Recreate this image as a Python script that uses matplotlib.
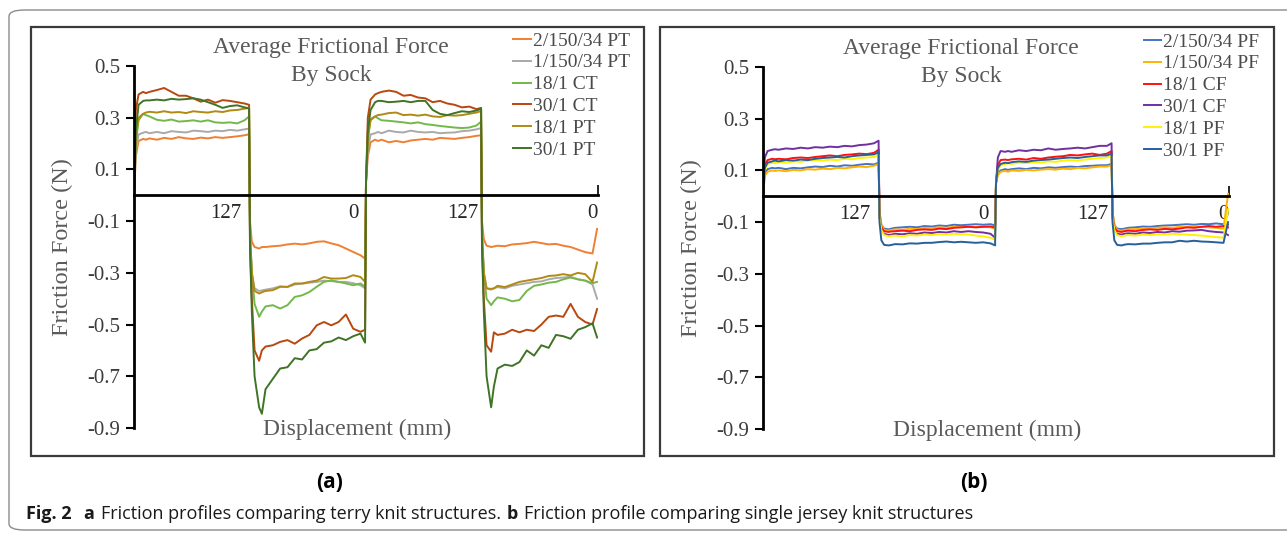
import numpy as np
import matplotlib
matplotlib.use('Agg')
import matplotlib.pyplot as plt
from matplotlib.patches import Rectangle, FancyBboxPatch

# sample positions inside one 127 mm stroke (mm)
stroke_pos = [0, 2, 5, 10, 13, 17, 25, 33, 41, 49, 57, 65, 73, 81, 89, 97, 105, 113, 121, 126]
stroke_len = 127
xtick_pos = [100, 240, 360, 502]
xtick_labels = ['127', '0', '127', '0']

# ---- (a) terry knit structures, friction force (N), four strokes each ----
pt_2_150_34 = [0.0, 0.15, 0.21, 0.218, 0.215, 0.22, 0.215, 0.222, 0.218, 0.225, 0.22, 0.218, 0.223, 0.22, 0.225, 0.222, 0.225, 0.228, 0.232, 0.236,
               -0.1, -0.18, -0.2, -0.206, -0.2, -0.2, -0.197, -0.195, -0.19, -0.187, -0.19, -0.186, -0.18, -0.178, -0.186, -0.193, -0.206, -0.219, -0.232, -0.245,
               0.05, 0.15, 0.205, 0.215, 0.21, 0.215, 0.205, 0.21, 0.205, 0.212, 0.215, 0.218, 0.215, 0.222, 0.22, 0.218, 0.222, 0.225, 0.23, 0.232,
               -0.1, -0.17, -0.195, -0.2, -0.198, -0.195, -0.197, -0.19, -0.188, -0.185, -0.18, -0.185, -0.19, -0.188, -0.195, -0.2, -0.21, -0.22, -0.225, -0.13]
pt_1_150_34 = [0.0, 0.17, 0.235, 0.242, 0.245, 0.24, 0.245, 0.24, 0.248, 0.245, 0.243, 0.25, 0.248, 0.245, 0.25, 0.248, 0.253, 0.25, 0.255, 0.258,
               -0.15, -0.3, -0.36, -0.37, -0.368, -0.365, -0.36, -0.352, -0.355, -0.345, -0.342, -0.338, -0.335, -0.33, -0.332, -0.335, -0.335, -0.34, -0.348, -0.36,
               0.05, 0.18, 0.235, 0.24, 0.245, 0.24, 0.25, 0.245, 0.243, 0.25, 0.245, 0.243, 0.245, 0.24, 0.242, 0.243, 0.248, 0.25, 0.255, 0.26,
               -0.15, -0.3, -0.36, -0.365, -0.36, -0.355, -0.36, -0.35, -0.345, -0.34, -0.335, -0.333, -0.325, -0.32, -0.318, -0.315, -0.325, -0.33, -0.345, -0.40]
ct_18_1 = [0.0, 0.20, 0.29, 0.315, 0.31, 0.305, 0.292, 0.288, 0.293, 0.285, 0.287, 0.29, 0.285, 0.29, 0.282, 0.28, 0.282, 0.278, 0.29, 0.305,
           -0.15, -0.3, -0.42, -0.47, -0.45, -0.43, -0.425, -0.438, -0.425, -0.393, -0.387, -0.374, -0.354, -0.335, -0.329, -0.335, -0.341, -0.348, -0.341, -0.354,
           0.05, 0.22, 0.295, 0.305, 0.298, 0.29, 0.288, 0.285, 0.282, 0.278, 0.282, 0.275, 0.272, 0.268, 0.265, 0.262, 0.26, 0.262, 0.27, 0.285,
           -0.15, -0.3, -0.40, -0.425, -0.41, -0.395, -0.40, -0.41, -0.405, -0.37, -0.35, -0.345, -0.338, -0.335, -0.325, -0.318, -0.325, -0.33, -0.34, -0.335]
ct_30_1 = [0.0, 0.33, 0.39, 0.40, 0.395, 0.40, 0.407, 0.415, 0.40, 0.385, 0.385, 0.375, 0.362, 0.37, 0.358, 0.368, 0.365, 0.36, 0.355, 0.35,
           -0.2, -0.4, -0.6, -0.64, -0.6, -0.585, -0.58, -0.567, -0.56, -0.574, -0.554, -0.54, -0.503, -0.49, -0.503, -0.49, -0.461, -0.516, -0.528, -0.52,
           0.05, 0.30, 0.37, 0.39, 0.395, 0.40, 0.405, 0.40, 0.385, 0.388, 0.378, 0.375, 0.36, 0.365, 0.355, 0.35, 0.34, 0.343, 0.333, 0.338,
           -0.2, -0.4, -0.58, -0.605, -0.53, -0.54, -0.535, -0.52, -0.53, -0.52, -0.525, -0.50, -0.47, -0.465, -0.47, -0.42, -0.47, -0.49, -0.5, -0.44]
pt_18_1 = [0.0, 0.22, 0.30, 0.315, 0.32, 0.323, 0.32, 0.325, 0.32, 0.322, 0.318, 0.325, 0.322, 0.32, 0.325, 0.322, 0.328, 0.33, 0.335, 0.338,
           -0.15, -0.3, -0.37, -0.38, -0.375, -0.37, -0.367, -0.354, -0.354, -0.341, -0.341, -0.335, -0.33, -0.316, -0.322, -0.322, -0.32, -0.309, -0.316, -0.335,
           0.05, 0.22, 0.29, 0.305, 0.31, 0.312, 0.318, 0.32, 0.31, 0.312, 0.308, 0.312, 0.305, 0.303, 0.31, 0.308, 0.31, 0.315, 0.32, 0.326,
           -0.15, -0.3, -0.36, -0.362, -0.36, -0.35, -0.355, -0.345, -0.335, -0.33, -0.325, -0.32, -0.312, -0.31, -0.305, -0.31, -0.30, -0.305, -0.335, -0.26]
pt_30_1 = [0.0, 0.25, 0.35, 0.365, 0.367, 0.367, 0.37, 0.367, 0.373, 0.37, 0.372, 0.375, 0.37, 0.36, 0.35, 0.338, 0.345, 0.348, 0.34, 0.336,
           -0.2, -0.45, -0.7, -0.82, -0.845, -0.75, -0.71, -0.67, -0.665, -0.63, -0.635, -0.60, -0.595, -0.57, -0.565, -0.55, -0.56, -0.545, -0.535, -0.57,
           0.05, 0.25, 0.33, 0.36, 0.365, 0.365, 0.36, 0.362, 0.365, 0.36, 0.365, 0.365, 0.33, 0.315, 0.31, 0.318, 0.325, 0.322, 0.328, 0.335,
           -0.2, -0.45, -0.7, -0.82, -0.74, -0.67, -0.655, -0.66, -0.645, -0.60, -0.62, -0.58, -0.59, -0.54, -0.545, -0.555, -0.52, -0.51, -0.495, -0.55]

# ---- (b) single jersey knit structures ----
pf_2_150_34 = [0.0, 0.09, 0.105, 0.11, 0.108, 0.11, 0.105, 0.11, 0.108, 0.112, 0.115, 0.113, 0.118, 0.115, 0.12, 0.118, 0.122, 0.125, 0.123, 0.13,
               -0.06, -0.11, -0.125, -0.128, -0.125, -0.122, -0.12, -0.118, -0.12, -0.115, -0.117, -0.113, -0.115, -0.11, -0.112, -0.11, -0.108, -0.11, -0.108, -0.112,
               0.05, 0.09, 0.1, 0.105, 0.102, 0.105, 0.108, 0.105, 0.11, 0.108, 0.112, 0.11, 0.113, 0.115, 0.113, 0.117, 0.118, 0.12, 0.12, 0.125,
               -0.06, -0.11, -0.125, -0.127, -0.125, -0.122, -0.12, -0.117, -0.118, -0.115, -0.113, -0.112, -0.11, -0.108, -0.11, -0.107, -0.108, -0.105, -0.108, -0.11]
pf_1_150_34 = [0.0, 0.08, 0.095, 0.1, 0.098, 0.1, 0.097, 0.102, 0.1, 0.105, 0.103, 0.107, 0.105, 0.11, 0.108, 0.112, 0.115, 0.113, 0.118, 0.125,
               -0.06, -0.11, -0.13, -0.133, -0.13, -0.128, -0.13, -0.125, -0.127, -0.122, -0.123, -0.12, -0.122, -0.118, -0.12, -0.117, -0.12, -0.118, -0.12, -0.125,
               0.05, 0.08, 0.095, 0.098, 0.095, 0.1, 0.098, 0.102, 0.1, 0.103, 0.105, 0.103, 0.107, 0.105, 0.11, 0.108, 0.112, 0.115, 0.115, 0.12,
               -0.06, -0.11, -0.13, -0.133, -0.13, -0.128, -0.127, -0.125, -0.123, -0.122, -0.12, -0.122, -0.118, -0.12, -0.117, -0.118, -0.12, -0.122, -0.125, 0.01]
cf_18_1 = [0.0, 0.12, 0.14, 0.145, 0.143, 0.145, 0.143, 0.148, 0.15, 0.148, 0.152, 0.155, 0.158, 0.155, 0.16, 0.162, 0.165, 0.163, 0.168, 0.18,
           -0.08, -0.12, -0.135, -0.138, -0.136, -0.135, -0.133, -0.135, -0.13, -0.128, -0.13, -0.125, -0.127, -0.122, -0.12, -0.118, -0.12, -0.118, -0.117, -0.12,
           0.05, 0.12, 0.14, 0.142, 0.14, 0.143, 0.145, 0.142, 0.148, 0.145, 0.15, 0.153, 0.155, 0.16, 0.158, 0.162, 0.165, 0.16, 0.165, 0.175,
           -0.08, -0.12, -0.135, -0.138, -0.135, -0.133, -0.135, -0.13, -0.128, -0.13, -0.126, -0.128, -0.125, -0.12, -0.122, -0.118, -0.115, -0.118, -0.115, -0.12]
cf_30_1 = [0.0, 0.15, 0.175, 0.18, 0.182, 0.18, 0.185, 0.183, 0.188, 0.185, 0.19, 0.188, 0.192, 0.19, 0.195, 0.193, 0.198, 0.2, 0.205, 0.215,
           -0.08, -0.13, -0.145, -0.15, -0.148, -0.145, -0.147, -0.143, -0.145, -0.14, -0.142, -0.138, -0.14, -0.135, -0.138, -0.135, -0.138, -0.14, -0.145, -0.16,
           0.05, 0.15, 0.175, 0.172, 0.175, 0.172, 0.178, 0.175, 0.18, 0.178, 0.185, 0.18, 0.183, 0.185, 0.188, 0.185, 0.19, 0.195, 0.195, 0.205,
           -0.08, -0.13, -0.145, -0.148, -0.145, -0.143, -0.145, -0.14, -0.142, -0.138, -0.14, -0.135, -0.137, -0.133, -0.132, -0.13, -0.135, -0.138, -0.14, -0.15]
pf_18_1 = [0.0, 0.1, 0.125, 0.13, 0.128, 0.132, 0.13, 0.135, 0.133, 0.138, 0.14, 0.138, 0.142, 0.14, 0.145, 0.143, 0.148, 0.15, 0.152, 0.16,
           -0.08, -0.13, -0.15, -0.155, -0.153, -0.152, -0.155, -0.15, -0.152, -0.148, -0.15, -0.147, -0.148, -0.145, -0.147, -0.148, -0.152, -0.155, -0.16, -0.168,
           0.05, 0.1, 0.12, 0.125, 0.128, 0.125, 0.13, 0.128, 0.132, 0.13, 0.135, 0.133, 0.138, 0.14, 0.138, 0.142, 0.145, 0.148, 0.15, 0.155,
           -0.08, -0.13, -0.15, -0.155, -0.152, -0.15, -0.152, -0.148, -0.15, -0.147, -0.148, -0.145, -0.147, -0.148, -0.15, -0.152, -0.155, -0.158, -0.16, -0.05]
pf_30_1 = [0.0, 0.11, 0.13, 0.135, 0.138, 0.135, 0.14, 0.138, 0.142, 0.14, 0.145, 0.148, 0.15, 0.152, 0.15, 0.155, 0.158, 0.16, 0.162, 0.17,
           -0.1, -0.17, -0.188, -0.19, -0.188, -0.185, -0.186, -0.182, -0.183, -0.18, -0.18, -0.177, -0.175, -0.178, -0.176, -0.178, -0.18, -0.178, -0.182, -0.19,
           0.05, 0.11, 0.125, 0.13, 0.128, 0.132, 0.135, 0.133, 0.138, 0.14, 0.142, 0.145, 0.148, 0.15, 0.148, 0.152, 0.155, 0.158, 0.158, 0.165,
           -0.1, -0.17, -0.188, -0.19, -0.187, -0.185, -0.186, -0.183, -0.183, -0.18, -0.178, -0.178, -0.172, -0.175, -0.172, -0.175, -0.176, -0.178, -0.18, -0.1]

labels_a = ['2/150/34 PT', '1/150/34 PT', '18/1 CT', '30/1 CT', '18/1 PT', '30/1 PT']
labels_b = ['2/150/34 PF', '1/150/34 PF', '18/1 CF', '30/1 CF', '18/1 PF', '30/1 PF']
colors_a = ['#F07F33', '#A9A9A9', '#72B84A', '#B8480F', '#B08A12', '#3F7426']
colors_b = ['#4472C4', '#FFB300', '#FF1010', '#7030A0', '#FFF200', '#26609C']
series_a = [pt_2_150_34, pt_1_150_34, ct_18_1, ct_30_1, pt_18_1, pt_30_1]
series_b = [pf_2_150_34, pf_1_150_34, cf_18_1, cf_30_1, pf_18_1, pf_30_1]

travel = np.concatenate([np.array(stroke_pos) + stroke_len * k for k in range(4)])

plt.rcParams['font.family'] = 'Liberation Serif'
W, H = 1287, 533
fig = plt.figure(figsize=(W / 100, H / 100), dpi=100)

# outer rounded frame and panel frames
fig.patches.append(FancyBboxPatch((9 / W, 3 / H), 1.1, (H - 13) / H, boxstyle='round,pad=0,rounding_size=0.012',
                                  transform=fig.transFigure, fill=False, ec='#8c8c8c', lw=1))
for x0, x1 in [(31, 644), (660, 1274)]:
    fig.patches.append(Rectangle((x0 / W, (H - 456) / H), (x1 - x0) / W, (456 - 27) / H,
                                 transform=fig.transFigure, fill=False, ec='#3a3a3a', lw=1.6))


def draw_panel(ax, series, labels, colors):
    for vals, lab, col in zip(series, labels, colors):
        ax.plot(travel, vals, color=col, lw=1.4, label=lab)
    ax.set_xlim(0, 4 * stroke_len)
    ax.set_ylim(-0.9, 0.5)
    ax.set_yticks([0.5, 0.3, 0.1, -0.1, -0.3, -0.5, -0.7, -0.9])
    ax.set_yticklabels(['0.5', '0.3', '0.1', '-0.1', '-0.3', '-0.5', '-0.7', '-0.9'])
    ax.set_xticks(xtick_pos)
    ax.set_xticklabels(xtick_labels)
    ax.set_xticks([4 * stroke_len], minor=True)
    for s in ['top', 'right']:
        ax.spines[s].set_visible(False)
    ax.spines['bottom'].set_position(('data', 0))
    ax.spines['bottom'].set_linewidth(2)
    ax.spines['left'].set_linewidth(2)
    ax.tick_params(axis='y', length=6, width=1.5, labelsize=15, colors='black', labelcolor='#3c3c3c', pad=4)
    ax.tick_params(axis='x', which='major', length=0, labelsize=15, labelcolor='#262626', pad=6)
    ax.tick_params(axis='x', which='minor', direction='in', length=7, width=1.2)
    ax.patch.set_visible(False)
    ax.text(0.425, 1.012, 'Average Frictional Force\nBy Sock', transform=ax.transAxes, ha='center', va='center',
            fontsize=17, color='#5a5a5a', linespacing=1.4)
    ax.text(0.48, -0.005, 'Displacement (mm)', transform=ax.transAxes, ha='center', va='center',
            fontsize=17, color='#5a5a5a')
    ax.set_ylabel('Friction Force (N)', fontsize=17.5, color='#5a5a5a', labelpad=10)
    ax.legend(loc='upper left', bbox_to_anchor=(0.817, 1.094), frameon=False, fontsize=14,
              handlelength=0.9, handletextpad=0.1, borderpad=0, borderaxespad=0, labelspacing=0.22,
              labelcolor='#4a4a4a')


ax_a = fig.add_axes([134 / W, (H - 428) / H, 464 / W, 362 / H])
ax_b = fig.add_axes([763 / W, (H - 429) / H, 466 / W, 362 / H])
draw_panel(ax_a, series_a, labels_a, colors_a)
draw_panel(ax_b, series_b, labels_b, colors_b)

fig.text(330 / W, 1 - 482 / H, '(a)', fontfamily='Open Sans', fontweight='bold', fontsize=15, ha='center', va='center')
fig.text(974 / W, 1 - 482 / H, '(b)', fontfamily='Open Sans', fontweight='bold', fontsize=15, ha='center', va='center')

# caption, built piece by piece
fig.canvas.draw()
r = fig.canvas.get_renderer()
pieces = [('Fig. 2', 'bold', 12), ('a', 'bold', 6), ('Friction profiles comparing terry knit structures.', 'normal', 6),
          ('b', 'bold', 6), ('Friction profile comparing single jersey knit structures', 'normal', 0)]
x = 26
for txt, wt, gap in pieces:
    t = fig.text(x / W, 1 - 514 / H, txt, fontfamily='Open Sans', fontweight=wt, fontsize=13,
                 ha='left', va='center', color='#1a1a1a')
    bb = t.get_window_extent(r)
    x = bb.x1 + gap

fig.savefig('out.png', dpi=100)
